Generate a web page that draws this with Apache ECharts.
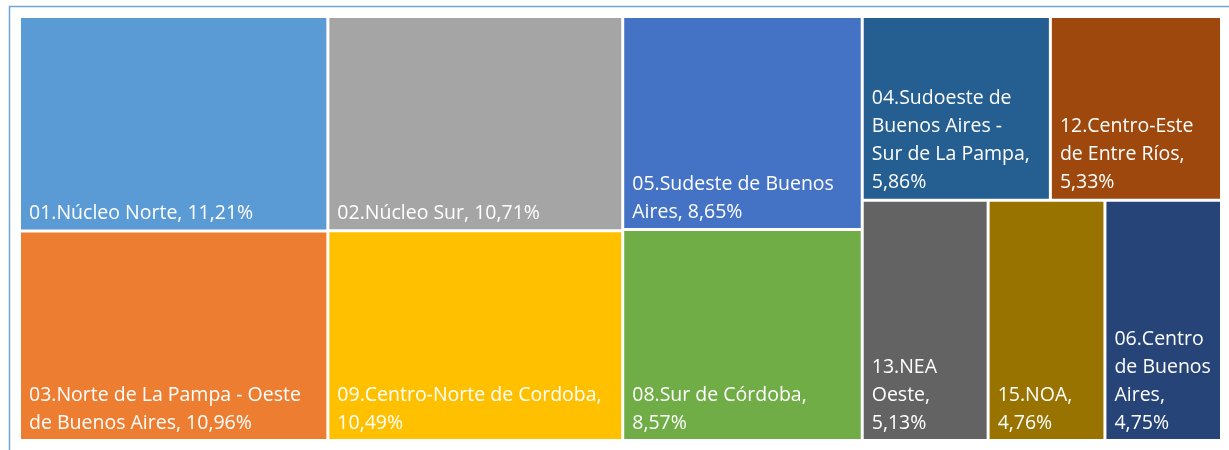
<!DOCTYPE html>
<html>
<head>
<meta charset="utf-8">
<script src="https://cdn.jsdelivr.net/npm/echarts@6/dist/echarts.min.js"></script>
<style>
  html, body { margin: 0; padding: 0; background: #fff; }
  #zonas { width: 1229px; height: 450px; }
</style>
</head>
<body>
<div id="zonas"></div>
<script>
// regiones en el orden de la planilla (de mayor a menor participacion)
var regiones = [
  '01.Núcleo Norte',
  '03.Norte de La Pampa - Oeste\nde Buenos Aires',
  '02.Núcleo Sur',
  '09.Centro-Norte de Cordoba',
  '05.Sudeste de Buenos\nAires',
  '08.Sur de Córdoba',
  '04.Sudoeste de\nBuenos Aires -\nSur de La Pampa',
  '12.Centro-Este\nde Entre Ríos',
  '13.NEA\nOeste',
  '15.NOA',
  '06.Centro\nde Buenos\nAires'
];
var participacion = [11.21, 10.96, 10.71, 10.49, 8.65, 8.57, 5.86, 5.33, 5.13, 4.76, 4.75];
// separador entre nombre y porcentaje (algunos van en otra linea)
var separador = [', ', ', ', ', ', ',\n', ', ', ',\n', ',\n', ',\n', ',\n', ',\n', ',\n'];
var colores = ['#5B9BD5', '#ED7D31', '#A5A5A5', '#FFC000', '#4472C4', '#70AD47',
               '#255E91', '#9E480E', '#636363', '#997300', '#264478'];

var datos = regiones.map(function (r, i) {
  return {
    name: r,
    value: participacion[i],
    itemStyle: { color: colores[i] },
    sep: separador[i]
  };
});

var chart = echarts.init(document.getElementById('zonas'));
chart.setOption({
  animation: false,
  graphic: [{
    type: 'rect',
    left: 7, top: 4,
    shape: { width: 1240, height: 460 },
    style: { fill: 'none', stroke: '#6FA3DA', lineWidth: 1.5 },
    silent: true
  }],
  series: [{
    type: 'treemap',
    left: 21, top: 18, width: 1199, height: 421,
    squareRatio: 1.04,
    roam: false,
    nodeClick: false,
    breadcrumb: { show: false },
    levels: [{ itemStyle: { gapWidth: 3, borderWidth: 0 } }],
    label: {
      show: true,
      position: 'insideBottomLeft',
      distance: 2,
      padding: [0, 0, 0, 6],
      color: '#fff',
      fontFamily: 'Open Sans',
      fontSize: 19.5,
      lineHeight: 28,
      overflow: 'none',
      formatter: function (p) {
        return p.name + p.data.sep + p.value.toFixed(2).replace('.', ',') + '%';
      }
    },
    data: datos
  }]
});
</script>
</body>
</html>
